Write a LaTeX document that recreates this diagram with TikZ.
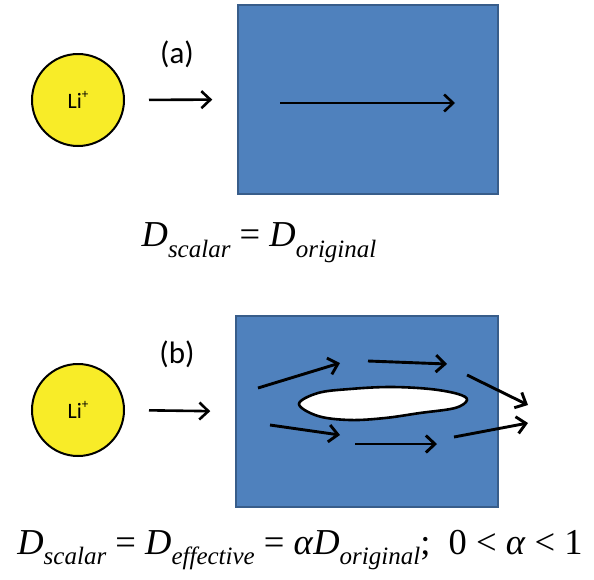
\documentclass[tikz,border=0pt]{standalone}
\usepackage{fontspec}
\setmainfont{Liberation Serif}
\newfontfamily\calfont{Carlito}
\usetikzlibrary{arrows.meta,positioning,calc}
\definecolor{ionyellow}{RGB}{248,236,40}
\definecolor{hostblue}{RGB}{79,129,189}
\definecolor{hostedge}{RGB}{56,93,138}
\newcommand\Dsub[1]{\textit{D}\raisebox{-0.3em}{\fontsize{25}{27}\selectfont\textit{#1}}}
\tikzset{
  >={Straight Barb[length=9pt,width=17pt]},
  ion/.style={draw,circle,fill=ionyellow,line width=2pt,minimum size=92pt,inner sep=0pt,font=\calfont\fontsize{22}{24}\selectfont},
  host/.style={draw=hostedge,fill=hostblue,line width=1.5pt,inner sep=0pt},
  flow/.style={->,line width=2.6pt},
  lbl/.style={font=\calfont\fontsize{31}{34}\selectfont},
  eq/.style={font=\fontsize{36.5}{40}\selectfont,inner sep=0pt}
}

\begin{document}
\begin{tikzpicture}[x=1pt,y=-1pt]
\useasboundingbox (0,0) rectangle (594,579);
% (a) undisturbed diffusion
\node[ion](ionA)at(78,100){Li\raisebox{0.45em}{\fontsize{13}{14}\selectfont+}};
\node[host,minimum width=260pt,minimum height=189pt](boxA)at(368,99.5){};
\node[lbl](labA)at(177,54){(a)};
\draw[flow,shorten <=24pt,shorten >=25pt](ionA.east)--(boxA.west);
\coordinate(inA)at(280,103);\coordinate(outA)at(455,103);
\draw[flow](inA)--(outA);
\node[eq](eqA)at(259,243){\Dsub{scalar} = \Dsub{original}};
% (b) diffusion round an obstacle
\node[ion](ionB)at(78,410){Li\raisebox{0.45em}{\fontsize{13}{14}\selectfont+}};
\node[host,minimum width=262pt,minimum height=191pt](boxB)at(367,411.5){};
\node[lbl](labB)at(177,354){(b)};
\draw[flow,shorten <=24pt,shorten >=25pt](ionB.east)--(boxB.west);
\draw[fill=white,line width=2.6pt]plot[smooth cycle,tension=0.6]coordinates{
  (299,404)(318,393)(350,389)(390,387)(430,389)(458,394)(467,400)
  (455,408)(420,413)(385,418)(350,420)(318,416)};
\foreach \x/\y/\u/\v in {258/388/340/363, 368/361/447/364, 467/375/528/405,
                         270/425/340/435, 355/444/437/444, 454/437/528/423}{
  \draw[flow,line width=2.9pt](\x,\y)--(\u,\v);}
\node[eq](eqB)at(300,550){\Dsub{scalar} = \Dsub{effective} = \textit{α}\Dsub{original}; \ 0 < \textit{α} < 1};
\end{tikzpicture}
\end{document}
